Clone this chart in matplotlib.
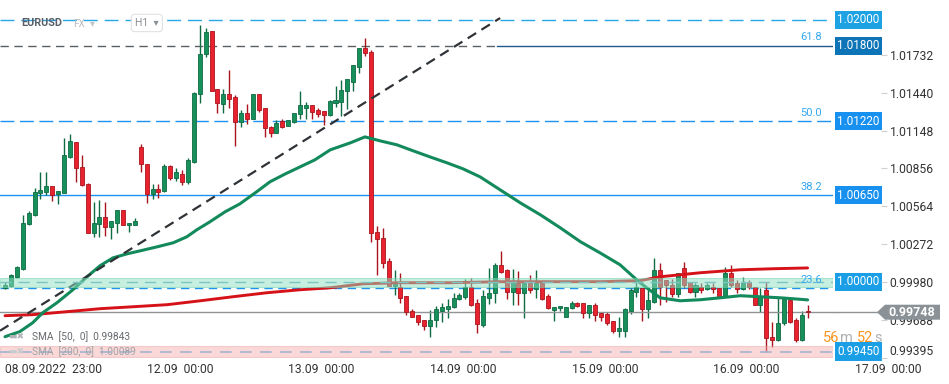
import matplotlib
matplotlib.use('Agg')
import matplotlib.pyplot as plt
import matplotlib.transforms as mtrans
from matplotlib.patches import Polygon
from matplotlib.lines import Line2D
import numpy as np

plt.rcParams['font.family'] = ['Roboto', 'DejaVu Sans']

# ---------------- data (EURUSD, H1) ----------------
opens = [0.99936, 0.99952, 1.00021, 1.00083, 1.00429, 1.00499, 1.00668, 1.00676, 1.00722, 1.00660,
         1.00668, 1.00945, 1.01061, 1.00868, 1.00737, 1.00360, 1.00429, 1.00483, 1.00406, 1.00437,
         1.00537, 1.00422, 1.00422, 1.01022, 1.00891, 1.00660, 1.00699, 1.00683, 1.00876, 1.00783,
         1.00814, 1.00753, 1.00907, 1.01430, 1.01738, 1.01915, 1.01469, 1.01353, 1.01430, 1.01407,
         1.01215, 1.01284, 1.01238, 1.01430, 1.01322, 1.01176, 1.01130, 1.01222, 1.01184, 1.01215,
         1.01276, 1.01322, 1.01346, 1.01307, 1.01299, 1.01269, 1.01361, 1.01369, 1.01453, 1.01523,
         1.01638, 1.01784, 1.01754, 1.00368, 1.00321, 1.00144, 0.99952, 0.99944, 0.99875, 0.99759,
         0.99729, 0.99690, 0.99644, 0.99690, 0.99759, 0.99775, 0.99790, 0.99852, 0.99867, 0.99944,
         0.99821, 0.99652, 0.99859, 0.99898, 1.00114, 1.00075, 0.99906, 0.99975, 0.99898, 0.99975,
         0.99929, 0.99975, 0.99875, 0.99767, 0.99782, 0.99713, 0.99782, 0.99821, 0.99821, 0.99744,
         0.99806, 0.99744, 0.99736, 0.99682, 0.99605, 0.99605, 0.99759, 0.99906, 0.99936, 0.99775,
         0.99829, 1.00075, 0.99998, 0.99960, 0.99890, 1.00090, 0.99983, 0.99906, 0.99944, 0.99929,
         0.99944, 0.99936, 0.99875, 1.00052, 0.99975, 0.99929, 0.99983, 0.99944, 0.99806, 0.99921,
         0.99559, 0.99536, 0.99667, 0.99844, 0.99690, 0.99536, 0.99756]
highs = [0.99983, 1.00044, 1.00106, 1.00499, 1.00529, 1.00706, 1.00830, 1.00830, 1.00722, 1.00683,
         1.01091, 1.01122, 1.01061, 1.00961, 1.00745, 1.00599, 1.00614, 1.00599, 1.00452, 1.00537,
         1.00537, 1.00437, 1.00475, 1.01045, 1.00891, 1.00737, 1.00737, 1.00891, 1.00884, 1.00860,
         1.00845, 1.00937, 1.01446, 1.01962, 1.01938, 1.01915, 1.01469, 1.01469, 1.01615, 1.01423,
         1.01307, 1.01353, 1.01430, 1.01430, 1.01322, 1.01184, 1.01230, 1.01238, 1.01230, 1.01284,
         1.01453, 1.01369, 1.01346, 1.01322, 1.01299, 1.01384, 1.01492, 1.01538, 1.01546, 1.01654,
         1.01784, 1.01861, 1.01769, 1.00414, 1.00398, 1.00167, 1.00075, 1.00052, 0.99875, 0.99775,
         0.99729, 0.99690, 0.99767, 0.99798, 0.99821, 0.99852, 0.99898, 0.99898, 1.00006, 1.00013,
         0.99852, 0.99921, 1.00090, 1.00129, 1.00221, 1.00083, 1.00083, 1.00067, 0.99975, 1.00037,
         1.00075, 0.99975, 0.99890, 0.99790, 0.99798, 0.99790, 0.99836, 0.99829, 0.99821, 0.99806,
         0.99821, 0.99752, 0.99752, 0.99682, 0.99713, 0.99782, 0.99936, 0.99998, 0.99936, 0.99936,
         1.00167, 1.00129, 0.99998, 1.00006, 1.00052, 1.00137, 0.99983, 0.99975, 0.99975, 0.99975,
         0.99975, 0.99936, 1.00098, 1.00114, 0.99998, 1.00021, 0.99998, 0.99944, 0.99936, 0.99983,
         0.99675, 0.99859, 0.99867, 0.99859, 0.99705, 0.99759, 0.99806]
lows = [0.99929, 0.99944, 1.00013, 1.00075, 1.00422, 1.00491, 1.00622, 1.00653, 1.00606, 1.00583,
        1.00668, 1.00937, 1.00753, 1.00722, 1.00360, 1.00329, 1.00329, 1.00337, 1.00314, 1.00360,
        1.00422, 1.00368, 1.00422, 1.00830, 1.00591, 1.00622, 1.00629, 1.00676, 1.00768, 1.00760,
        1.00730, 1.00737, 1.00899, 1.01361, 1.01715, 1.01453, 1.01284, 1.01284, 1.01322, 1.01030,
        1.01176, 1.01199, 1.01238, 1.01292, 1.01099, 1.01099, 1.01130, 1.01168, 1.01184, 1.01207,
        1.01238, 1.01238, 1.01238, 1.01253, 1.01192, 1.01261, 1.01330, 1.01261, 1.01315, 1.01453,
        1.01592, 1.01723, 1.00291, 1.00037, 1.00090, 0.99952, 0.99883, 0.99821, 0.99729, 0.99713,
        0.99652, 0.99613, 0.99559, 0.99636, 0.99675, 0.99705, 0.99782, 0.99844, 0.99852, 0.99798,
        0.99590, 0.99636, 0.99813, 0.99821, 1.00052, 0.99852, 0.99806, 0.99806, 0.99705, 0.99898,
        0.99859, 0.99844, 0.99775, 0.99682, 0.99759, 0.99713, 0.99775, 0.99790, 0.99705, 0.99705,
        0.99682, 0.99682, 0.99652, 0.99590, 0.99559, 0.99559, 0.99736, 0.99867, 0.99682, 0.99705,
        0.99821, 0.99806, 0.99829, 0.99867, 0.99867, 0.99936, 0.99898, 0.99867, 0.99898, 0.99921,
        0.99898, 0.99867, 0.99867, 0.99944, 0.99898, 0.99921, 0.99929, 0.99806, 0.99752, 0.99444,
        0.99482, 0.99528, 0.99652, 0.99667, 0.99521, 0.99528, 0.99705]
closes = [0.99960, 1.00037, 1.00098, 1.00437, 1.00514, 1.00676, 1.00691, 1.00722, 1.00653, 1.00683,
          1.00961, 1.01068, 1.00860, 1.00730, 1.00360, 1.00437, 1.00483, 1.00406, 1.00452, 1.00537,
          1.00422, 1.00437, 1.00452, 1.00891, 1.00660, 1.00699, 1.00676, 1.00876, 1.00783, 1.00830,
          1.00753, 1.00922, 1.01438, 1.01738, 1.01908, 1.01453, 1.01361, 1.01430, 1.01392, 1.01215,
          1.01284, 1.01238, 1.01430, 1.01307, 1.01168, 1.01130, 1.01207, 1.01176, 1.01230, 1.01284,
          1.01346, 1.01346, 1.01292, 1.01276, 1.01269, 1.01376, 1.01384, 1.01461, 1.01546, 1.01654,
          1.01784, 1.01746, 1.00360, 1.00314, 1.00129, 0.99952, 0.99975, 0.99859, 0.99752, 0.99713,
          0.99675, 0.99644, 0.99690, 0.99775, 0.99790, 0.99798, 0.99859, 0.99883, 0.99944, 0.99806,
          0.99659, 0.99875, 0.99898, 1.00114, 1.00060, 0.99906, 0.99983, 0.99898, 0.99975, 0.99921,
          0.99975, 0.99852, 0.99782, 0.99790, 0.99798, 0.99790, 0.99821, 0.99798, 0.99744, 0.99806,
          0.99729, 0.99713, 0.99667, 0.99605, 0.99628, 0.99775, 0.99921, 0.99944, 0.99775, 0.99844,
          1.00075, 0.99944, 0.99960, 0.99890, 1.00052, 0.99960, 0.99906, 0.99960, 0.99921, 0.99960,
          0.99929, 0.99867, 1.00052, 0.99960, 0.99929, 0.99975, 0.99944, 0.99806, 0.99867, 0.99551,
          0.99536, 0.99667, 0.99852, 0.99675, 0.99536, 0.99729, 0.99748]

time_tick_idx = [0, 24, 48, 72, 96, 120]
time_tick_labels = ['08.09.2022  23:00', '12.09  00:00', '13.09  00:00',
                    '14.09  00:00', '15.09  00:00', '16.09  00:00']
future_tick_idx = 144
future_tick_label = '17.09  00:00'

sma50_idx = [0, 2.5, 4.7, 6.4, 8.8, 11.5, 13.9, 16.1, 18.3, 20.7, 22.9, 25.8, 28.5, 30.8, 32.5,
             34.7, 37.3, 39.8, 42.4, 44.9, 47.5, 50.0, 52.5, 55.1, 58.5, 61.0, 63.6, 66.4, 69.2,
             72.0, 74.9, 77.6, 80.5, 83.9, 87.3, 90.7, 94.1, 97.5, 100.8, 104.2, 107.6, 111.0,
             114.4, 117.8, 121.2, 124.6, 128.0, 131.4, 136]
sma50_val = [0.99559, 0.99598, 0.99667, 0.99744, 0.99821, 0.99921, 1.00021, 1.00106, 1.00167,
             1.00198, 1.00221, 1.00252, 1.00283, 1.00329, 1.00383, 1.00444, 1.00522, 1.00583,
             1.00668, 1.00753, 1.00814, 1.00868, 1.00922, 1.00999, 1.01053, 1.01099, 1.01068,
             1.01038, 1.00991, 1.00945, 1.00899, 1.00853, 1.00791, 1.00691, 1.00591, 1.00499,
             1.00398, 1.00291, 1.00206, 1.00114, 0.99975, 0.99859, 0.99836, 0.99844, 0.99859,
             0.99875, 0.99867, 0.99859, 0.99843]
sma200_idx = [0, 4.7, 10.5, 16.1, 21.7, 27.5, 33.1, 38.6, 44.4, 50.0, 55.1, 60.7, 66.9, 75.4,
              83.9, 92.4, 100.8, 107.6, 111.0, 117.8, 124.6, 130.2, 136]
sma200_val = [0.99721, 0.99729, 0.99752, 0.99775, 0.99790, 0.99806, 0.99836, 0.99867, 0.99898,
              0.99921, 0.99936, 0.99967, 0.99975, 0.99975, 0.99983, 0.99983, 0.99983, 0.99991,
              1.00021, 1.00052, 1.00075, 1.00083, 1.00089]

price_ticks = [1.01732, 1.01440, 1.01148, 1.00856, 1.00564, 1.00272, 0.99980, 0.99688, 0.99395]

trend_idx = [-0.85, 83.9]
trend_val = [0.99605, 1.02015]

fib_start_idx = 83.4
fib_levels = [1.01800, 1.01220, 1.00650, 0.99932]
fib_names = ['61.8', '50.0', '38.2', '23.6']

zone_green = (0.99944, 1.00013, 0.99983)   # low, high, mid line
zone_pink = (0.99405, 0.99485, 0.99445)

current_price = 0.99748

# ---------------- figure ----------------
W, H = 949, 384
fig = plt.figure(figsize=(W / 100, H / 100), dpi=100)
fig.patch.set_facecolor('white')
bottom_px, top_px = 358, 0
ax = fig.add_axes([0, (H - bottom_px) / H, 833 / W, (bottom_px - top_px) / H])
ax2 = fig.add_axes([883 / W, (H - bottom_px) / H, 4 / W, (bottom_px - top_px) / H], sharey=ax)

ax.set_xlim(-0.85, 140.3)
ax.set_ylim(0.99397, 1.02154)
for a in (ax, ax2):
    for s in a.spines.values():
        s.set_visible(False)
    a.set_facecolor('none')

n = len(opens)
x = np.arange(n)
o = np.array(opens); c = np.array(closes); h = np.array(highs); l = np.array(lows)
up = c >= o
GREEN, GREEN_D = '#17905c', '#0e6b43'
RED, RED_D = '#e8232f', '#a9141d'
wick_col = np.where(up, GREEN_D, RED_D)
body_col = np.where(up, GREEN, RED)
edge_col = np.where(up, GREEN_D, RED_D)
ax.vlines(x, l, h, colors=wick_col, lw=1.0, zorder=2)
heights = np.maximum(np.abs(c - o), 0.00002)
ax.bar(x, heights, bottom=np.minimum(o, c), width=0.68, color=body_col,
       edgecolor=edge_col, linewidth=0.6, zorder=3)

# moving averages
ax.plot(sma200_idx, sma200_val, color='#d61219', lw=2.1, zorder=4, solid_capstyle='round')
ax.plot(sma50_idx, sma50_val, color='#138a5b', lw=2.2, zorder=4, solid_capstyle='round')

# trend line
ax.plot(trend_idx, trend_val, color='#2f3337', lw=1.6, dashes=(4.5, 2.8), zorder=5)

# horizontal levels
ax.axhline(1.02000, color='#27a6e8', lw=1.0, dashes=(10, 5), zorder=1.5)
ax.plot([-0.85, fib_start_idx], [fib_levels[0]] * 2, color='#5a5f64', lw=1.0, dashes=(6, 4), zorder=1.5)
ax.plot([fib_start_idx, 140.3], [fib_levels[0]] * 2, color='#1f5a8a', lw=1.0, zorder=1.5)
ax.axhline(fib_levels[1], color='#1c93f2', lw=1.0, dashes=(10, 4), zorder=1.5)
ax.axhline(fib_levels[2], color='#1c93f2', lw=1.0, zorder=1.5)
ax.axhline(fib_levels[3], color='#1c93f2', lw=1.0, dashes=(6, 4), zorder=1.5)

# zones
ax.axhspan(zone_green[0], zone_green[1], facecolor='#8fe0c2', alpha=0.5,
           edgecolor='#6fd3ad', lw=0.8, zorder=6)
ax.axhline(zone_green[2], color='#7cc4c4', lw=1.0, dashes=(8, 5), zorder=6.5)
ax.axhspan(zone_pink[0], zone_pink[1], facecolor='#f4a9a9', alpha=0.45,
           edgecolor='#eea0a0', lw=0.8, zorder=6)
ax.axhline(zone_pink[2], color='#a3b4cf', lw=1.2, dashes=(7, 5), zorder=6.5)

# current price line
ax.axhline(current_price, color='#8f9396', lw=1.0, zorder=2.5)
trans_r = mtrans.blended_transform_factory(ax.transAxes, ax.transData)
ax.add_line(Line2D([1.0, 877 / 833], [current_price] * 2, transform=trans_r,
                   color='#8f9396', lw=1.0, clip_on=False))

# fib labels
for lev, name in zip(fib_levels, fib_names):
    ax.annotate(name, xy=(1.0, lev), xycoords=trans_r, xytext=(-8, 2.5),
                textcoords='offset points', ha='right', va='bottom',
                color='#35a8ef', fontsize=8, zorder=8)

# price boxes
boxes = [(1.02000, '1.02000', '#1da2e3'), (1.01800, '1.01800', '#0d74b8'),
         (1.01220, '1.01220', '#1890f0'), (1.00650, '1.00650', '#1890f0'),
         (zone_green[2], '1.00000', '#1a9fe6'), (zone_pink[2], '0.99450', '#1a9fe6')]
for yv, txt, col in boxes:
    ax.annotate(txt, xy=(1.0, yv), xycoords=trans_r, xytext=(3.2, 0),
                textcoords='offset points', ha='left', va='center', color='white',
                fontsize=8.4, annotation_clip=False,
                bbox=dict(boxstyle='square,pad=0.22', fc=col, ec='none'))

# x ticks
ax.set_xticks(time_tick_idx)
ax.set_xticklabels(time_tick_labels, ha='left', fontsize=8.7, color='#333333')
ax.tick_params(axis='x', length=0, pad=3.5)
trans_b = mtrans.blended_transform_factory(ax.transData, ax.transAxes)
ax.annotate(future_tick_label, xy=(future_tick_idx, 0), xycoords=trans_b,
            xytext=(0, -3.5), textcoords='offset points', ha='left', va='top',
            fontsize=8.7, color='#333333', annotation_clip=False)
ax.tick_params(axis='y', left=False, labelleft=False)

# right price scale
ax2.set_xticks([])
ax2.yaxis.tick_right()
ax2.set_yticks(price_ticks)
ax2.set_yticklabels(['%.5f' % v for v in price_ticks], fontsize=8.7, color='#333333')
ax2.tick_params(axis='y', direction='in', length=4, width=0.8, color='#d0d0d0', pad=2)
ax2.get_yticklabels()[-1].set_va('bottom')

# current price arrow label
fig.canvas.draw()
yd = ax.transData.transform((0, current_price))[1]
poly = Polygon([[877, yd], [885, yd + 7.5], [940, yd + 7.5], [940, yd - 7.5], [885, yd - 7.5]],
               closed=True, transform=mtrans.IdentityTransform(), fc='#8a9297', ec='none', zorder=5)
fig.add_artist(poly)
fig.text(912 / W, yd / H, '%.5f' % current_price, ha='center', va='center', color='white',
         fontsize=9, fontweight='bold', zorder=6)

# countdown
for px_, t, col in [(823, '56', '#f7941d'), (840, 'm', '#b0b0b0'), (857, '52', '#f7941d'), (874, 's', '#b0b0b0')]:
    fig.text(px_ / W, 1 - 338 / H, t, ha='left', va='center', color=col, fontsize=10.5)

# header
fig.text(21 / W, 1 - 23 / H, 'EURUSD', fontsize=7.8, fontweight='bold', color='#596067', va='center')
fig.text(73 / W, 1 - 24 / H, 'FX', fontsize=7.2, color='#b7bcc0', va='center')
fig.text(90 / W, 1 - 23 / H, '▾', fontsize=7, color='#c0c4c8', va='center')
fig.text(135 / W, 1 - 23 / H, 'H1  ▾', fontsize=7.5, color='#8a8f94', va='center',
         bbox=dict(boxstyle='round,pad=0.35,rounding_size=0.3', fc='white', ec='#e0e2e4', lw=0.8))

# SMA legends
fig.text(8 / W, 1 - 337 / H, '▬✖', fontsize=6.5, color='#b0b4b8', va='center')
fig.text(32 / W, 1 - 337 / H, 'SMA  [50,  0]  0.99843', fontsize=7.3, color='#666a6e', va='center')
fig.text(8 / W, 1 - 352 / H, '▬✖', fontsize=6.5, color='#c8cbce', va='center')
fig.text(32 / W, 1 - 352 / H, 'SMA  [200,  0]  1.00089', fontsize=7.3, color='#a0a4a8', va='center')

fig.savefig('out.png', dpi=100, facecolor='white')
